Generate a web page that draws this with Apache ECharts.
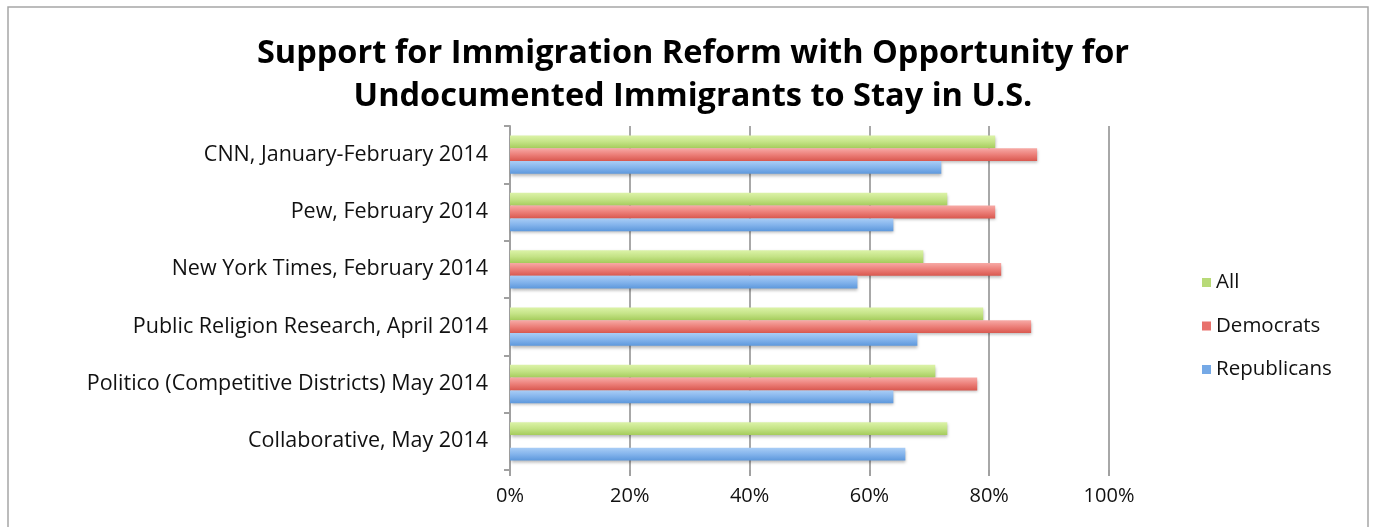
<!DOCTYPE html>
<html>
<head>
<meta charset="utf-8">
<script src="https://cdn.jsdelivr.net/npm/echarts@6/dist/echarts.min.js"></script>
<style>
html,body{margin:0;padding:0;background:#fff;}
#chart{width:1375px;height:527px;}
</style>
</head>
<body>
<div id="chart"></div>
<script>
const categories = [
  "CNN, January-February 2014",
  "Pew, February 2014",
  "New York Times, February 2014",
  "Public Religion Research, April 2014",
  "Politico (Competitive Districts) May 2014",
  "Collaborative, May 2014"
];
const allValues = [81, 73, 69, 79, 71, 73];
const democratValues = [88, 81, 82, 87, 78, null];
const republicanValues = [72, 64, 58, 68, 64, 66];
const xTicks = [0, 20, 40, 60, 80, 100];

const FONT = "'Open Sans', 'Noto Sans', sans-serif";

function grad(top, mid, bottom) {
  return new echarts.graphic.LinearGradient(0, 0, 0, 1, [
    {offset: 0, color: top},
    {offset: 0.5, color: mid},
    {offset: 1, color: bottom}
  ]);
}

const chart = echarts.init(document.getElementById('chart'));
const barStyle = (c) => ({
  color: c,
  shadowBlur: 3,
  shadowColor: 'rgba(0,0,0,0.28)',
  shadowOffsetX: 1,
  shadowOffsetY: 2
});

chart.setOption({
  animation: false,
  backgroundColor: '#fff',
  textStyle: {fontFamily: FONT},
  graphic: [{
    type: 'rect',
    shape: {x: 8, y: 7, width: 1360, height: 540},
    style: {fill: 'none', stroke: '#a6a6a6', lineWidth: 1.5},
    silent: true
  }],
  title: {
    text: 'Support for Immigration Reform with Opportunity for\nUndocumented Immigrants to Stay in U.S.',
    left: 688,
    top: 27,
    textAlign: 'center',
    textStyle: {fontFamily: FONT, fontWeight: 'bold', fontSize: 32.5, lineHeight: 43, color: '#000'}
  },
  legend: {
    orient: 'vertical',
    left: 1197,
    top: 267,
    itemWidth: 9,
    itemHeight: 9,
    itemGap: 22.5,
    icon: 'rect',
    data: [
      {name: 'All', itemStyle: {color: '#b8da78'}},
      {name: 'Democrats', itemStyle: {color: '#e8716c'}},
      {name: 'Republicans', itemStyle: {color: '#75a9e6'}}
    ],
    textStyle: {fontFamily: FONT, fontSize: 20.5, color: '#111', lineHeight: 20, padding: [0, 0, 0, 0]}
  },
  grid: {left: 510, right: 266, top: 126, bottom: 57, containLabel: false},
  xAxis: {
    type: 'value',
    min: xTicks[0],
    max: xTicks[xTicks.length - 1],
    interval: 20,
    axisLine: {show: false},
    axisTick: {show: true, length: 6, lineStyle: {color: '#a0a0a0', width: 2}},
    splitLine: {show: true, lineStyle: {color: '#a8a8a8', width: 2}},
    axisLabel: {formatter: '{value}%', fontFamily: FONT, fontSize: 20, color: '#111', margin: 16}
  },
  yAxis: {
    type: 'category',
    data: categories,
    inverse: true,
    axisLine: {show: true, lineStyle: {color: '#a0a0a0', width: 2}},
    axisTick: {show: true, length: 6, lineStyle: {color: '#a0a0a0', width: 2}},
    axisLabel: {fontFamily: FONT, fontSize: 21.5, color: '#111', margin: 22}
  },
  series: [
    {name: 'All', type: 'bar', data: allValues, barGap: '0%', barCategoryGap: '33%',
     itemStyle: barStyle(grad('#dcf3a8', '#c4e386', '#a5cc5c'))},
    {name: 'Democrats', type: 'bar', data: democratValues, barGap: '0%', barCategoryGap: '33%',
     itemStyle: barStyle(grad('#f7aaa6', '#ec7f79', '#d9584f'))},
    {name: 'Republicans', type: 'bar', data: republicanValues, barGap: '0%', barCategoryGap: '33%',
     itemStyle: barStyle(grad('#a9cdf6', '#84b4ec', '#5d98dc'))}
  ]
});
</script>
</body>
</html>
